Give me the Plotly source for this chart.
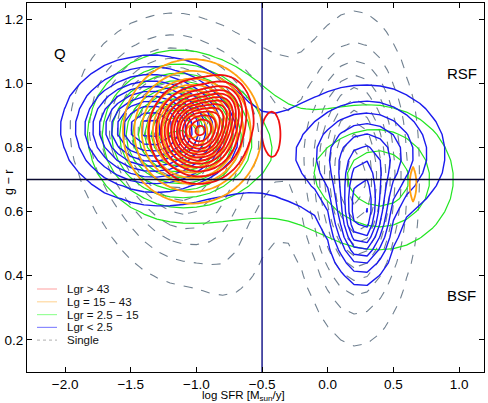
import numpy as np
import plotly.graph_objects as go

# ---------------------------------------------------------------------------
# Density components (centre x, centre y, sigma x, sigma y, weight)
# ---------------------------------------------------------------------------
SINGLE_X0 = [-1.20, 0.22, -1.05, -0.45, -0.75]
SINGLE_Y0 = [0.86, 0.70, 0.58, 0.82, 0.42]
SINGLE_SX = [0.32, 0.20, 0.30, 0.45, 0.15]
SINGLE_SY = [0.15, 0.22, 0.12, 0.18, 0.08]
SINGLE_W = [1.00, 1.00, 0.25, 0.15, 0.06]

LOW_X0 = [-1.35, 0.26, 0.32, -0.50]
LOW_Y0 = [0.86, 0.58, 0.78, 0.77]
LOW_SX = [0.30, 0.12, 0.30, 0.60]
LOW_SY = [0.10, 0.10, 0.11, 0.14]
LOW_W = [1.00, 0.72, 0.45, 0.10]

MID_X0 = [-1.15, 0.43, -0.40]
MID_Y0 = [0.84, 0.70, 0.75]
MID_SX = [0.30, 0.32, 0.50]
MID_SY = [0.115, 0.13, 0.17]
MID_W = [1.00, 0.30, 0.12]

HIGH_X0 = [-1.03, 0.65]
HIGH_Y0 = [0.85, 0.685]
HIGH_SX = [0.235, 0.028]
HIGH_SY = [0.10, 0.06]
HIGH_W = [1.00, 0.12]

TOP_X0 = [-0.98, -0.78, -0.42]
TOP_Y0 = [0.85, 0.93, 0.84]
TOP_SX = [0.17, 0.10, 0.075]
TOP_SY = [0.073, 0.05, 0.085]
TOP_W = [1.00, 0.30, 0.11]

LEGEND_LABELS = ["Lgr > 43", "Lg = 15 \u2212 43", "Lgr = 2.5 \u2212 15", "Lgr < 2.5", "Single"]
REGION_LABELS = ["Q", "RSF", "BSF"]
REGION_X = [-2.04, 1.02, 1.02]
REGION_Y = [1.093, 1.03, 0.337]

X_TICKS = [-2.0, -1.5, -1.0, -0.5, 0.0, 0.5, 1.0]
Y_TICKS = [0.2, 0.4, 0.6, 0.8, 1.0, 1.2]
SFR_CUT = -0.5
COLOR_CUT = 0.7


def density(xs, ys, x0, y0, sx, sy, w):
    X, Y = np.meshgrid(xs, ys)
    Z = np.zeros_like(X)
    for a, b, c, d, e in zip(x0, y0, sx, sy, w):
        Z += e * np.exp(-0.5 * ((X - a) / c) ** 2 - 0.5 * ((Y - b) / d) ** 2)
    return Z / Z.max()


coarse_x = np.arange(-2.4, 1.35, 0.1)
coarse_y = np.arange(0.0, 1.4, 0.04)
fine_x = np.arange(-2.4, 1.35, 0.025)
fine_y = np.arange(0.0, 1.4, 0.01)

groups = [
    # (xs, ys, comps, colour, width, dash, start, size, smoothing)
    (coarse_x, coarse_y, (SINGLE_X0, SINGLE_Y0, SINGLE_SX, SINGLE_SY, SINGLE_W), "#708090", 1.1, "dash", 0.06, 0.095, 0),
    (coarse_x, coarse_y, (MID_X0, MID_Y0, MID_SX, MID_SY, MID_W), "#22e622", 1.2, "solid", 0.08, 0.09, 0),
    (coarse_x, coarse_y, (LOW_X0, LOW_Y0, LOW_SX, LOW_SY, LOW_W), "#1a1aee", 1.4, "solid", 0.08, 0.09, 0),
    (fine_x, fine_y, (HIGH_X0, HIGH_Y0, HIGH_SX, HIGH_SY, HIGH_W), "#ffa010", 1.8, "solid", 0.08, 0.09, 1),
    (fine_x, fine_y, (TOP_X0, TOP_Y0, TOP_SX, TOP_SY, TOP_W), "#f01010", 1.8, "solid", 0.08, 0.075, 1),
]

fig = go.Figure()
for xs, ys, comps, col, wid, dash, start, size, smooth in groups:
    Z = density(xs, ys, *comps)
    fig.add_trace(go.Contour(
        x=xs, y=ys, z=Z,
        autocontour=False,
        contours=dict(start=start, end=0.99, size=size, coloring="lines"),
        colorscale=[[0, col], [1, col]],
        line=dict(width=wid, dash=dash, smoothing=smooth),
        showscale=False, hoverinfo="skip",
    ))

# reference cuts
fig.add_trace(go.Scatter(x=[SFR_CUT, SFR_CUT], y=[0.1, 1.25], mode="lines",
                         line=dict(color="#1c1c8c", width=1.5), showlegend=False, hoverinfo="skip"))
fig.add_trace(go.Scatter(x=[-2.3, 1.2], y=[COLOR_CUT, COLOR_CUT], mode="lines",
                         line=dict(color="#0a0a30", width=1.3), showlegend=False, hoverinfo="skip"))

# region labels
for t, x, y in zip(REGION_LABELS, REGION_X, REGION_Y):
    fig.add_annotation(x=x, y=y, text=t, showarrow=False, xanchor="center", yanchor="middle",
                       font=dict(size=15, color="black"))

# hand-drawn legend (compact rows like matplotlib)
L, R, T, B = 27, 484, 3, 372
leg_cols = ["#ffb0b0", "#ffd9a0", "#99ff99", "#8a8aff", "#c0c0c0"]
leg_dash = ["solid", "solid", "solid", "solid", "dot"]
for i, (lab, c, d) in enumerate(zip(LEGEND_LABELS, leg_cols, leg_dash)):
    py = 289 + i * 12.8
    yp = (B - py) / (B - T)
    fig.add_shape(type="line", xref="paper", yref="paper",
                  x0=(37 - L) / (R - L), x1=(57 - L) / (R - L), y0=yp, y1=yp,
                  line=dict(color=c, width=1.2, dash=d))
    fig.add_annotation(xref="paper", yref="paper", x=(65 - L) / (R - L), y=yp, text=lab,
                       showarrow=False, xanchor="left", yanchor="middle",
                       font=dict(size=11.5, color="#111"))

# axis titles
fig.add_annotation(xref="paper", yref="paper", x=(243 - L) / (R - L), y=(B - 395.5) / (B - T),
                   text="log SFR [M<sub>sun</sub>/y]", showarrow=False,
                   xanchor="center", yanchor="middle", font=dict(size=11.5, color="black"))
fig.add_annotation(xref="paper", yref="paper", x=(9 - L) / (R - L), y=(B - 183) / (B - T),
                   text="g \u2212 r", textangle=-90, showarrow=False,
                   xanchor="center", yanchor="middle", font=dict(size=12.5, color="black"))

axis_common = dict(showgrid=False, zeroline=False, showline=True, linecolor="black", linewidth=1,
                   mirror="ticks", ticks="inside", ticklen=5, tickcolor="black",
                   tickfont=dict(size=13.5, color="black"), tickformat=".1f", automargin=False)
fig.update_xaxes(range=[-2.29, 1.19], tickvals=X_TICKS, **axis_common)
fig.update_yaxes(range=[0.1, 1.25], tickvals=Y_TICKS, **axis_common)

fig.update_layout(
    width=488, height=403,
    margin=dict(l=L, r=488 - R, t=T, b=403 - B, pad=0),
    plot_bgcolor="white", paper_bgcolor="white",
    font=dict(family="Liberation Sans, Arial, sans-serif"),
    showlegend=False, hovermode=False,
)

fig.write_html("out.html", config={"displayModeBar": False},
               post_script="document.body.style.margin='0';")
